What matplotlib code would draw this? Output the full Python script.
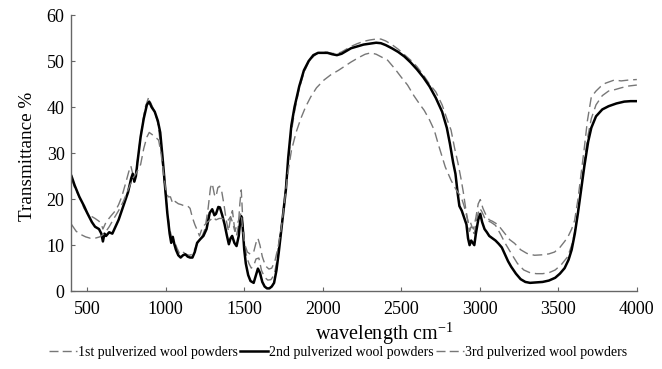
import matplotlib
matplotlib.use("Agg")
import matplotlib.pyplot as plt
from matplotlib.lines import Line2D

# ---- data ----
x2 = [400,420,450,480,500,530,550,575,590,600,610,620,640,660,680,700,720,740,760,780,790,800,810,820,840,860,880,895,910,930,950,965,980,995,1010,1025,1035,1045,1055,1065,1080,1095,1110,1125,1140,1155,1170,1185,1200,1220,1240,1260,1280,1296,1310,1320,1335,1345,1360,1375,1390,1402,1413,1423,1437,1451,1465,1475,1481,1490,1500,1510,1525,1540,1560,1575,1587,1600,1615,1630,1645,1660,1675,1690,1705,1720,1735,1750,1765,1780,1800,1820,1850,1880,1910,1940,1970,2000,2030,2060,2090,2120,2150,2180,2220,2260,2300,2340,2370,2400,2440,2480,2520,2560,2600,2640,2680,2720,2760,2790,2810,2830,2845,2860,2870,2885,2900,2915,2925,2935,2945,2955,2965,2975,2990,3003,3015,3030,3045,3060,3080,3100,3120,3140,3160,3180,3200,3230,3260,3290,3320,3360,3400,3440,3480,3510,3540,3565,3585,3605,3625,3645,3665,3690,3710,3740,3780,3820,3870,3920,3960,4000]
y2 = [25.0,23.0,20.5,18.5,17.0,15.0,14.0,13.5,12.5,10.8,12.5,12.0,12.8,12.5,14.0,15.5,17.5,19.5,21.5,24.5,25.5,23.8,25.0,28.0,33.5,37.5,40.5,41.2,40.0,39.0,37.0,34.5,29.0,23.0,17.0,12.5,10.5,11.8,10.2,9.0,7.8,7.3,7.8,8.0,7.5,7.3,7.3,8.5,10.5,11.3,12.0,13.5,17.0,17.8,16.5,16.8,18.3,18.2,16.5,14.5,12.0,10.2,11.5,12.0,10.5,9.8,12.0,15.5,16.3,14.0,9.0,6.0,3.5,2.2,1.8,3.5,4.9,4.0,2.0,1.0,0.6,0.6,1.0,1.8,4.5,8.5,13.0,17.5,22.0,29.0,36.0,40.0,44.5,48.0,50.0,51.3,51.8,51.8,51.8,51.5,51.3,51.6,52.2,52.8,53.2,53.6,53.8,54.0,53.9,53.5,52.8,52.0,51.0,49.7,48.2,46.5,44.5,42.0,39.0,35.5,32.0,28.0,25.5,21.0,18.5,17.5,16.0,14.5,11.5,10.0,11.0,10.5,10.0,12.5,15.5,16.8,15.0,13.5,12.8,12.0,11.5,11.0,10.3,9.5,8.0,6.5,5.3,3.8,2.6,2.0,1.8,1.9,2.0,2.3,2.9,3.8,5.0,6.8,9.0,12.5,17.0,22.0,27.0,32.5,35.5,38.0,39.5,40.2,40.8,41.2,41.3,41.3]

x1 = [400,420,450,480,500,530,550,575,590,600,620,650,680,700,720,745,765,778,790,800,815,830,850,870,890,910,930,950,970,990,1010,1025,1040,1055,1070,1090,1110,1130,1150,1170,1190,1210,1230,1250,1270,1285,1296,1310,1320,1332,1343,1355,1370,1385,1400,1415,1425,1437,1450,1462,1472,1481,1490,1500,1515,1530,1545,1560,1575,1593,1610,1630,1650,1670,1690,1705,1720,1740,1760,1780,1800,1820,1850,1880,1910,1940,1970,2000,2030,2060,2090,2120,2150,2180,2220,2260,2300,2340,2370,2400,2440,2480,2520,2560,2600,2640,2680,2720,2760,2790,2817,2840,2860,2880,2895,2910,2925,2935,2945,2955,2965,2980,2997,3010,3030,3050,3070,3100,3130,3160,3200,3240,3280,3320,3360,3400,3440,3480,3520,3560,3590,3610,3630,3650,3670,3690,3710,3740,3780,3820,3860,3900,3950,4000]
y1 = [24.5,22.5,20.5,18.0,17.0,16.2,15.8,15.2,14.5,13.5,15.0,16.3,17.5,18.8,20.5,23.5,26.0,27.2,25.5,24.2,27.0,31.0,36.0,40.0,42.0,40.5,39.0,36.5,31.0,24.0,17.5,13.5,11.5,11.0,9.5,8.0,8.5,8.0,7.8,8.0,9.5,11.0,11.8,13.5,18.0,22.5,23.4,21.0,20.5,22.5,22.8,22.0,19.0,15.5,13.0,16.5,17.5,14.0,12.0,14.0,19.0,22.0,16.0,11.0,7.5,6.0,5.0,5.5,7.0,7.2,4.5,3.0,2.4,2.5,3.5,6.0,10.5,15.0,21.0,28.0,34.5,39.0,44.0,47.5,49.8,51.0,51.8,52.0,51.9,51.7,51.6,52.0,52.6,53.2,53.8,54.3,54.6,54.8,54.8,54.4,53.6,52.6,51.4,50.2,48.8,47.0,45.0,43.3,40.5,37.5,35.0,31.0,28.0,24.5,21.5,18.0,15.0,13.0,14.0,13.0,12.5,15.5,18.0,17.5,16.0,15.3,15.0,14.3,12.5,10.5,8.2,6.0,4.6,4.0,3.8,3.8,4.0,4.6,5.8,7.5,10.5,14.0,18.5,24.0,29.5,34.0,37.5,40.5,42.5,43.5,43.8,44.2,44.6,44.8]

x3 = [400,430,460,490,520,550,580,610,640,670,700,730,760,790,810,840,860,880,895,915,935,955,970,985,1000,1015,1030,1045,1060,1080,1100,1120,1140,1155,1170,1185,1200,1215,1230,1245,1265,1285,1300,1320,1340,1360,1380,1400,1413,1425,1440,1455,1470,1480,1490,1505,1520,1540,1560,1575,1587,1600,1615,1635,1657,1675,1695,1715,1735,1755,1775,1800,1830,1860,1890,1923,1960,2008,2050,2100,2136,2180,2230,2270,2306,2340,2380,2413,2460,2500,2540,2580,2620,2646,2680,2710,2735,2753,2780,2817,2850,2881,2900,2915,2930,2940,2950,2960,2975,2990,3003,3020,3040,3060,3080,3104,3130,3160,3190,3221,3260,3300,3348,3400,3440,3476,3510,3540,3561,3585,3604,3625,3645,3665,3685,3710,3740,3770,3800,3857,3900,3950,4000]
y3 = [14.5,13.0,12.3,11.8,11.5,11.5,11.8,12.5,14.0,15.8,17.5,19.5,22.0,24.5,25.5,27.5,31.0,33.5,34.5,34.0,33.5,32.8,30.0,26.0,22.0,20.5,20.5,19.0,19.5,19.0,18.8,18.5,18.5,18.0,16.0,14.5,13.3,12.0,13.5,14.3,15.0,15.5,16.1,15.5,15.8,15.8,15.3,15.5,16.2,15.0,13.0,14.5,16.0,17.0,13.5,10.0,8.5,8.0,8.5,10.5,11.5,10.0,7.5,5.5,4.8,5.0,6.5,9.5,13.5,19.0,25.0,30.5,34.5,37.5,40.0,42.2,44.2,45.9,47.0,48.0,48.8,49.8,50.8,51.5,51.8,51.5,50.8,50.2,48.3,46.5,44.8,42.5,40.5,39.3,37.2,35.0,32.0,30.0,27.0,24.1,22.0,20.5,18.5,16.5,14.5,15.0,14.0,13.5,16.0,19.0,19.9,18.0,16.5,15.5,15.2,14.7,13.8,12.5,11.2,10.4,9.0,8.2,7.8,7.9,8.1,8.5,9.5,10.8,11.8,13.5,15.4,20.0,25.5,31.0,37.0,42.2,43.5,44.5,45.2,45.9,45.7,45.9,46.0]

labels = ["1st pulverized wool powders", "2nd pulverized wool powders", "3rd pulverized wool powders"]
xticks = [500, 1000, 1500, 2000, 2500, 3000, 3500, 4000]
yticks = [0, 10, 20, 30, 40, 50, 60]

plt.rcParams['font.family'] = ['Liberation Serif', 'DejaVu Serif']
plt.rcParams['mathtext.fontset'] = 'stix'

fig = plt.figure(figsize=(6.62, 3.69), dpi=100)
ax = fig.add_axes([0.108, 0.211, 0.854, 0.748])

gray = '#777777'
ax.plot(x1, y1, color=gray, lw=1.0, dashes=(7, 3.5), label=labels[0])
ax.plot(x2, y2, color='black', lw=1.8, label=labels[1])
ax.plot(x3, y3, color=gray, lw=1.0, dashes=(7, 3.5), label=labels[2])

ax.set_xlim(400, 4000)
ax.set_ylim(0, 60)
ax.set_xticks(xticks)
ax.set_yticks(yticks)
for s in ['top', 'right']:
    ax.spines[s].set_visible(False)
for s in ['left', 'bottom']:
    ax.spines[s].set_color('#666666')
    ax.spines[s].set_linewidth(1.0)
ax.tick_params(direction='in', length=3, color='#666666', labelsize=13)
ax.tick_params(axis='x', pad=7)
ax.tick_params(axis='y', pad=5)

ax.set_ylabel('Transmittance %', fontsize=13.8)
ax.yaxis.set_label_coords(-0.062, 0.49)
ax.set_xlabel(r'wavelength cm$^{\mathregular{-1}}$', fontsize=14.5)
ax.xaxis.set_label_coords(0.553, -0.105)

handles = [Line2D([], [], color=gray, lw=1.0, dashes=(6.5, 3)),
           Line2D([], [], color='black', lw=1.8),
           Line2D([], [], color=gray, lw=1.0, dashes=(6.5, 3))]
fig.legend(handles, labels, loc='center', bbox_to_anchor=(0.511, 0.045), ncol=3,
           frameon=False, fontsize=10, handlelength=2.0, handletextpad=0.1,
           columnspacing=0.15, borderaxespad=0)

fig.savefig('out.png', dpi=100)
